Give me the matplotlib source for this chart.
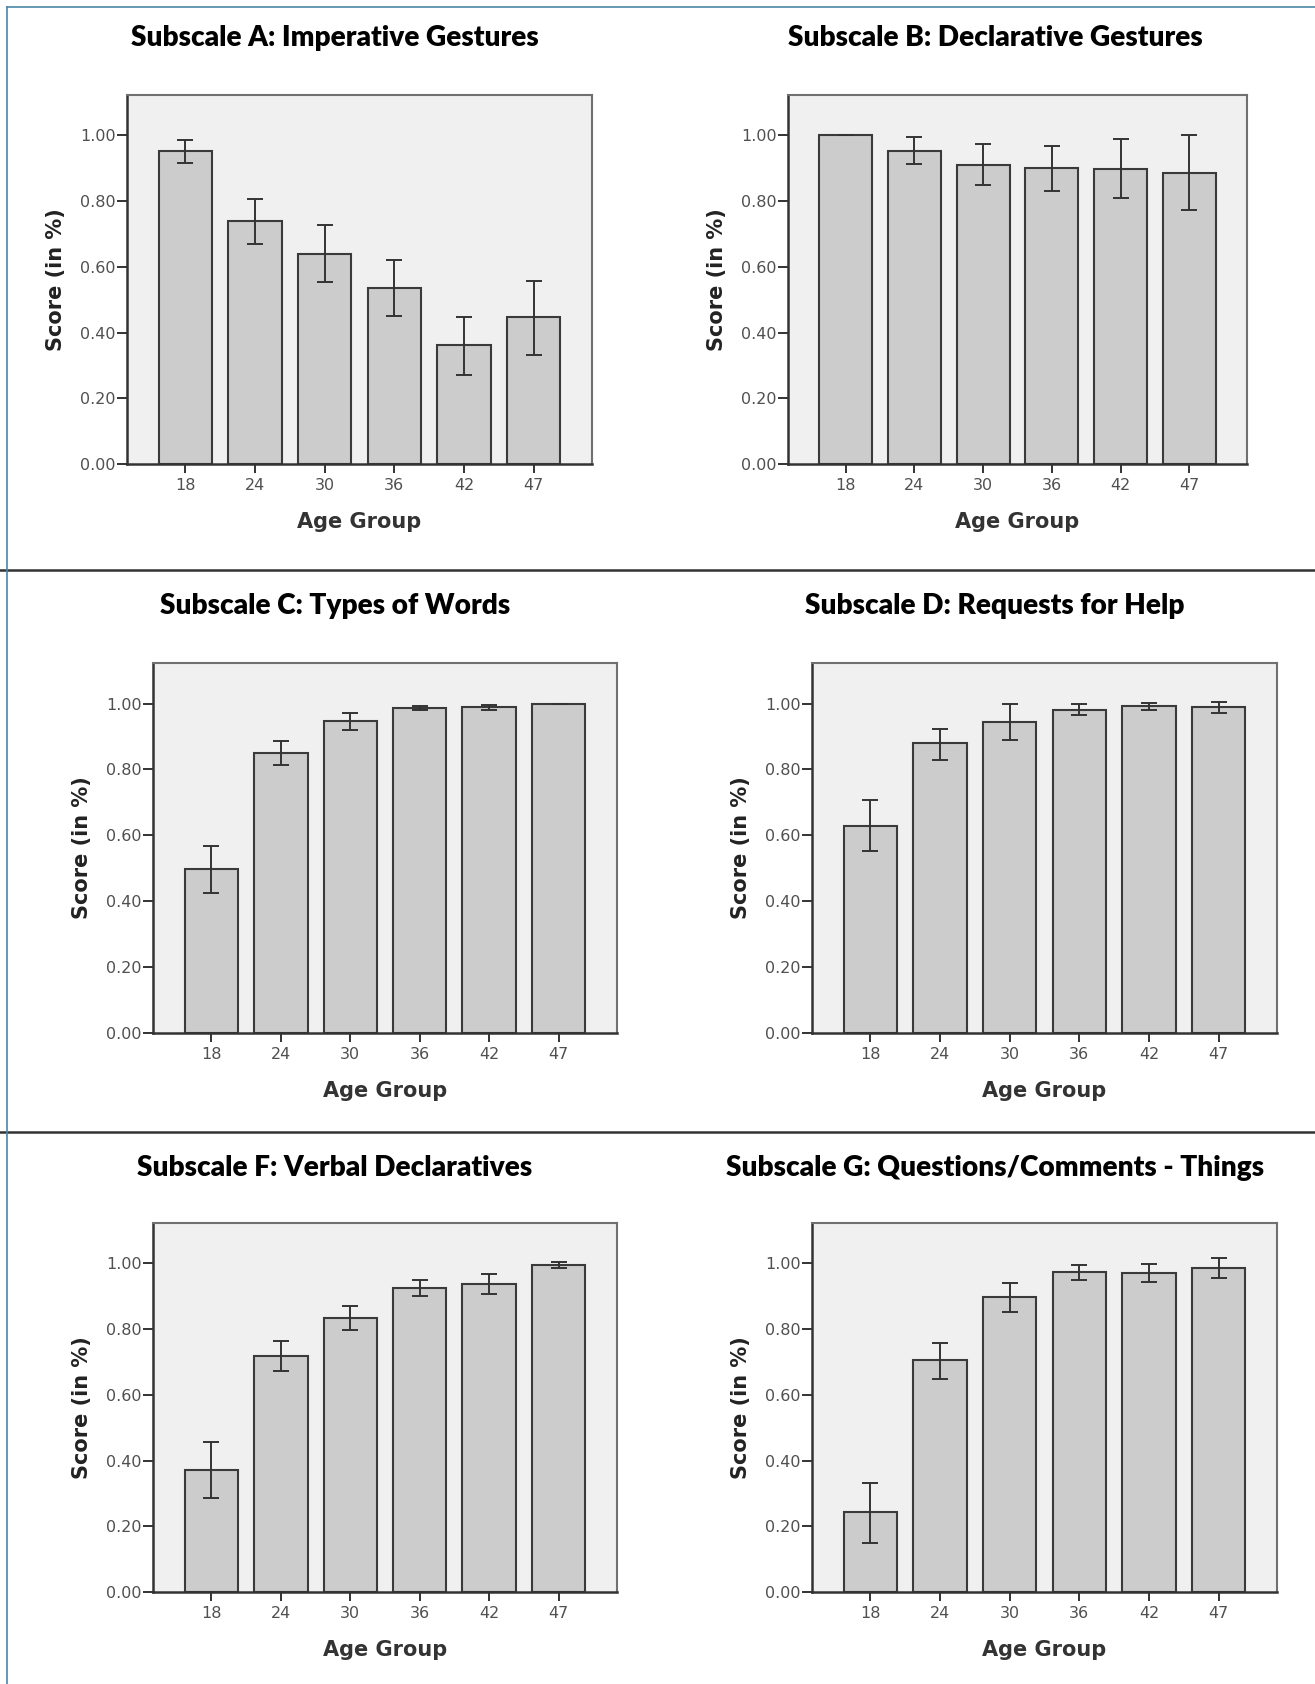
import matplotlib
matplotlib.use("Agg")
import matplotlib.pyplot as plt
import numpy as np

# age groups (months)
ages = ["18", "24", "30", "36", "42", "47"]

# bar heights and error bar ends
a_mean = [0.952, 0.739, 0.640, 0.536, 0.362, 0.446]
a_lo = [0.917, 0.669, 0.554, 0.449, 0.272, 0.332]
a_hi = [0.985, 0.806, 0.726, 0.620, 0.448, 0.558]

b_mean = [1.000, 0.954, 0.911, 0.901, 0.899, 0.887]
b_lo = [1.000, 0.912, 0.849, 0.832, 0.809, 0.772]
b_hi = [1.000, 0.994, 0.974, 0.969, 0.990, 1.000]

c_mean = [0.499, 0.849, 0.947, 0.986, 0.989, 1.000]
c_lo = [0.424, 0.812, 0.921, 0.979, 0.981, 1.000]
c_hi = [0.567, 0.885, 0.971, 0.994, 0.995, 1.000]

d_mean = [0.629, 0.879, 0.945, 0.981, 0.991, 0.990]
d_lo = [0.551, 0.829, 0.890, 0.966, 0.979, 0.970]
d_hi = [0.708, 0.923, 0.999, 0.998, 1.002, 1.006]

f_mean = [0.370, 0.718, 0.833, 0.925, 0.938, 0.995]
f_lo = [0.285, 0.672, 0.796, 0.901, 0.906, 0.985]
f_hi = [0.457, 0.764, 0.871, 0.949, 0.969, 1.005]

g_mean = [0.242, 0.705, 0.897, 0.974, 0.971, 0.985]
g_lo = [0.150, 0.648, 0.853, 0.951, 0.944, 0.955]
g_hi = [0.331, 0.759, 0.940, 0.996, 0.999, 1.017]

titles = ["Subscale A: Imperative Gestures", "Subscale B: Declarative Gestures",
          "Subscale C: Types of Words", "Subscale D: Requests for Help",
          "Subscale F: Verbal Declaratives", "Subscale G: Questions/Comments - Things"]
panels = [(a_mean, a_lo, a_hi), (b_mean, b_lo, b_hi), (c_mean, c_lo, c_hi),
          (d_mean, d_lo, d_hi), (f_mean, f_lo, f_hi), (g_mean, g_lo, g_hi)]

W, H = 1315, 1684
fig = plt.figure(figsize=(W / 100, H / 100), dpi=100)

# axes boxes in pixels: left, top, right, bottom
boxes = [(127, 95, 592, 464), (788, 95, 1247, 464),
         (153, 663, 617, 1033), (812, 663, 1277, 1033),
         (153, 1223, 617, 1592), (812, 1223, 1277, 1592)]
title_pos = [(335, 38), (995, 38), (335, 606), (995, 606), (335, 1168), (995, 1168)]

dark = "#333333"
for i, (box, (mean, lo, hi)) in enumerate(zip(boxes, panels)):
    l, t, r, b = box
    ax = fig.add_axes([l / W, 1 - b / H, (r - l) / W, (b - t) / H])
    ax.set_facecolor("#f0f0f0")
    x = np.arange(len(ages))
    mean = np.array(mean)
    yerr = [mean - np.array(lo), np.array(hi) - mean]
    ax.bar(x, mean, width=0.77, color="#cccccc", edgecolor="#3a3a3a", linewidth=1.5, zorder=2)
    ax.errorbar(x, mean, yerr=yerr, fmt="none", ecolor=dark, elinewidth=1.4,
                capsize=6, capthick=1.4, zorder=3)
    ax.set_xlim(-0.84, 5.84)
    ax.set_ylim(0, 1.123)
    ax.set_xticks(x)
    ax.set_xticklabels(ages)
    ax.set_yticks([0, 0.2, 0.4, 0.6, 0.8, 1.0])
    ax.set_yticklabels([f"{v:.2f}" for v in [0, 0.2, 0.4, 0.6, 0.8, 1.0]])
    ax.tick_params(direction="out", width=1.4, color=dark,
                   labelsize=11.5, labelcolor="#505050")
    ax.tick_params(axis="y", length=7, pad=1)
    ax.tick_params(axis="x", length=6.5, pad=3.5)
    for s in ["left", "bottom"]:
        ax.spines[s].set_color(dark)
        ax.spines[s].set_linewidth(1.8)
    for s in ["top", "right"]:
        ax.spines[s].set_color("#707070")
        ax.spines[s].set_linewidth(1.5)
    ax.set_ylabel("Score (in %)", fontsize=15, fontweight="bold", color="#222222")
    ax.set_xlabel("Age Group", fontsize=15, fontweight="bold", color="#333333")
    ax.yaxis.set_label_coords(-61 / (r - l), 0.5)
    ax.xaxis.set_label_coords(0.5, -48 / (b - t))
    tx, ty = title_pos[i]
    fig.text(tx / W, 1 - ty / H, titles[i], ha="center", va="center",
             fontsize=20.2, fontweight=800, family="Lato", color="#000000")

# frame lines round the panels
fig.add_artist(plt.Line2D([0, 1], [1 - 570 / H] * 2, color="#333333", lw=1.8))
fig.add_artist(plt.Line2D([0, 1], [1 - 1132 / H] * 2, color="#333333", lw=1.8))
fig.add_artist(plt.Line2D([7 / W] * 2, [0, 1 - 7 / H], color="#4a86a8", lw=1.2))
fig.add_artist(plt.Line2D([7 / W, 1], [1 - 7 / H] * 2, color="#4a86a8", lw=1.2))

fig.savefig("out.png", dpi=100)
